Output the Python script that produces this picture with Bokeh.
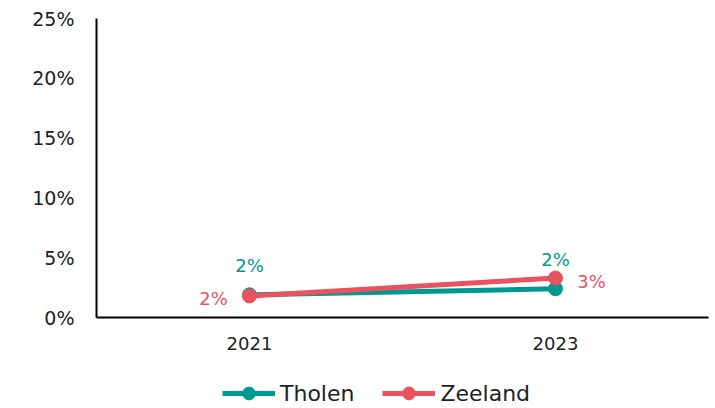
from bokeh.plotting import figure
from bokeh.layouts import column
from bokeh.models import ColumnDataSource, Legend, LegendItem, NumeralTickFormatter, FixedTicker, Range1d
from bokeh.core.properties import value
from bokeh.embed import file_html
from bokeh.resources import INLINE

years = ["2021", "2023"]
tholen = [0.019, 0.024]
zeeland = [0.018, 0.033]
y_ticks = [0, 0.05, 0.10, 0.15, 0.20, 0.25]
series_names = ["Tholen", "Zeeland"]

TEAL = "#00998F"
RED = "#E9525E"
FONT = "DejaVu Sans"

p = figure(width=712, height=362, x_range=years, y_range=Range1d(0, 0.25),
           output_backend="svg", toolbar_location=None,
           min_border_left=96, min_border_right=4, min_border_top=18, min_border_bottom=45)
p.outline_line_color = None
p.grid.visible = False

for ax in (p.xaxis, p.yaxis):
    ax.axis_line_color = "black"
    ax.axis_line_width = 2
    ax.major_tick_line_color = None
    ax.minor_tick_line_color = None
    ax.major_tick_out = 0
    ax.major_tick_in = 0
    ax.major_label_text_font = FONT
    ax.major_label_text_color = "#222222"
p.yaxis.ticker = FixedTicker(ticks=y_ticks)
p.yaxis.formatter = NumeralTickFormatter(format="0%")
p.yaxis.major_label_text_font_size = "19px"
p.yaxis.major_label_standoff = 22
p.xaxis.major_label_text_font_size = "18px"
p.xaxis.major_label_standoff = 19

src_t = ColumnDataSource(dict(x=years, y=tholen, lbl=[f"{round(v*100)}%" for v in tholen]))
src_z = ColumnDataSource(dict(x=years, y=zeeland, lbl=[f"{round(v*100)}%" for v in zeeland]))

p.line("x", "y", source=src_t, line_color=TEAL, line_width=5)
p.scatter("x", "y", source=src_t, size=14, fill_color=TEAL, line_color=TEAL)
p.line("x", "y", source=src_z, line_color=RED, line_width=5)
p.scatter("x", "y", source=src_z, size=14, fill_color=RED, line_color=RED)

p.text("x", "y", text="lbl", source=src_t, text_color=TEAL, text_font=value(FONT),
       text_font_size="18px", text_align="center", text_baseline="middle", y_offset=-29)
src_z0 = ColumnDataSource(dict(x=years[:1], y=zeeland[:1], lbl=src_z.data["lbl"][:1]))
src_z1 = ColumnDataSource(dict(x=years[1:], y=zeeland[1:], lbl=src_z.data["lbl"][1:]))
p.text("x", "y", text="lbl", source=src_z0, text_color=RED, text_font=value(FONT),
       text_font_size="18px", text_align="center", text_baseline="middle", x_offset=-36, y_offset=3)
p.text("x", "y", text="lbl", source=src_z1, text_color=RED, text_font=value(FONT),
       text_font_size="18px", text_align="center", text_baseline="middle", x_offset=36, y_offset=3)

# legend strip: same series drawn out of view, only their legend entries show
q = figure(width=712, height=46, x_range=years, y_range=Range1d(1, 2),
           output_backend="svg", toolbar_location=None,
           min_border_left=0, min_border_right=0, min_border_top=0, min_border_bottom=0)
q.axis.visible = False
q.grid.visible = False
q.outline_line_color = None
items = []
for name, col, src in zip(series_names, [TEAL, RED], [src_t, src_z]):
    r1 = q.line("x", "y", source=src, line_color=col, line_width=5)
    r2 = q.scatter("x", "y", source=src, size=14, fill_color=col, line_color=col)
    items.append(LegendItem(label=name, renderers=[r1, r2]))
legend = Legend(items=items, orientation="horizontal", location=(126, -1),
                label_text_font=FONT, label_text_font_size="22px", label_text_color="#222222",
                glyph_width=53, glyph_height=32, label_height=20, label_standoff=5, spacing=28,
                border_line_color=None, background_fill_alpha=0, margin=0, padding=0)
q.add_layout(legend, "center")

open("out.html", "w").write(file_html(column(p, q, spacing=0), INLINE))
